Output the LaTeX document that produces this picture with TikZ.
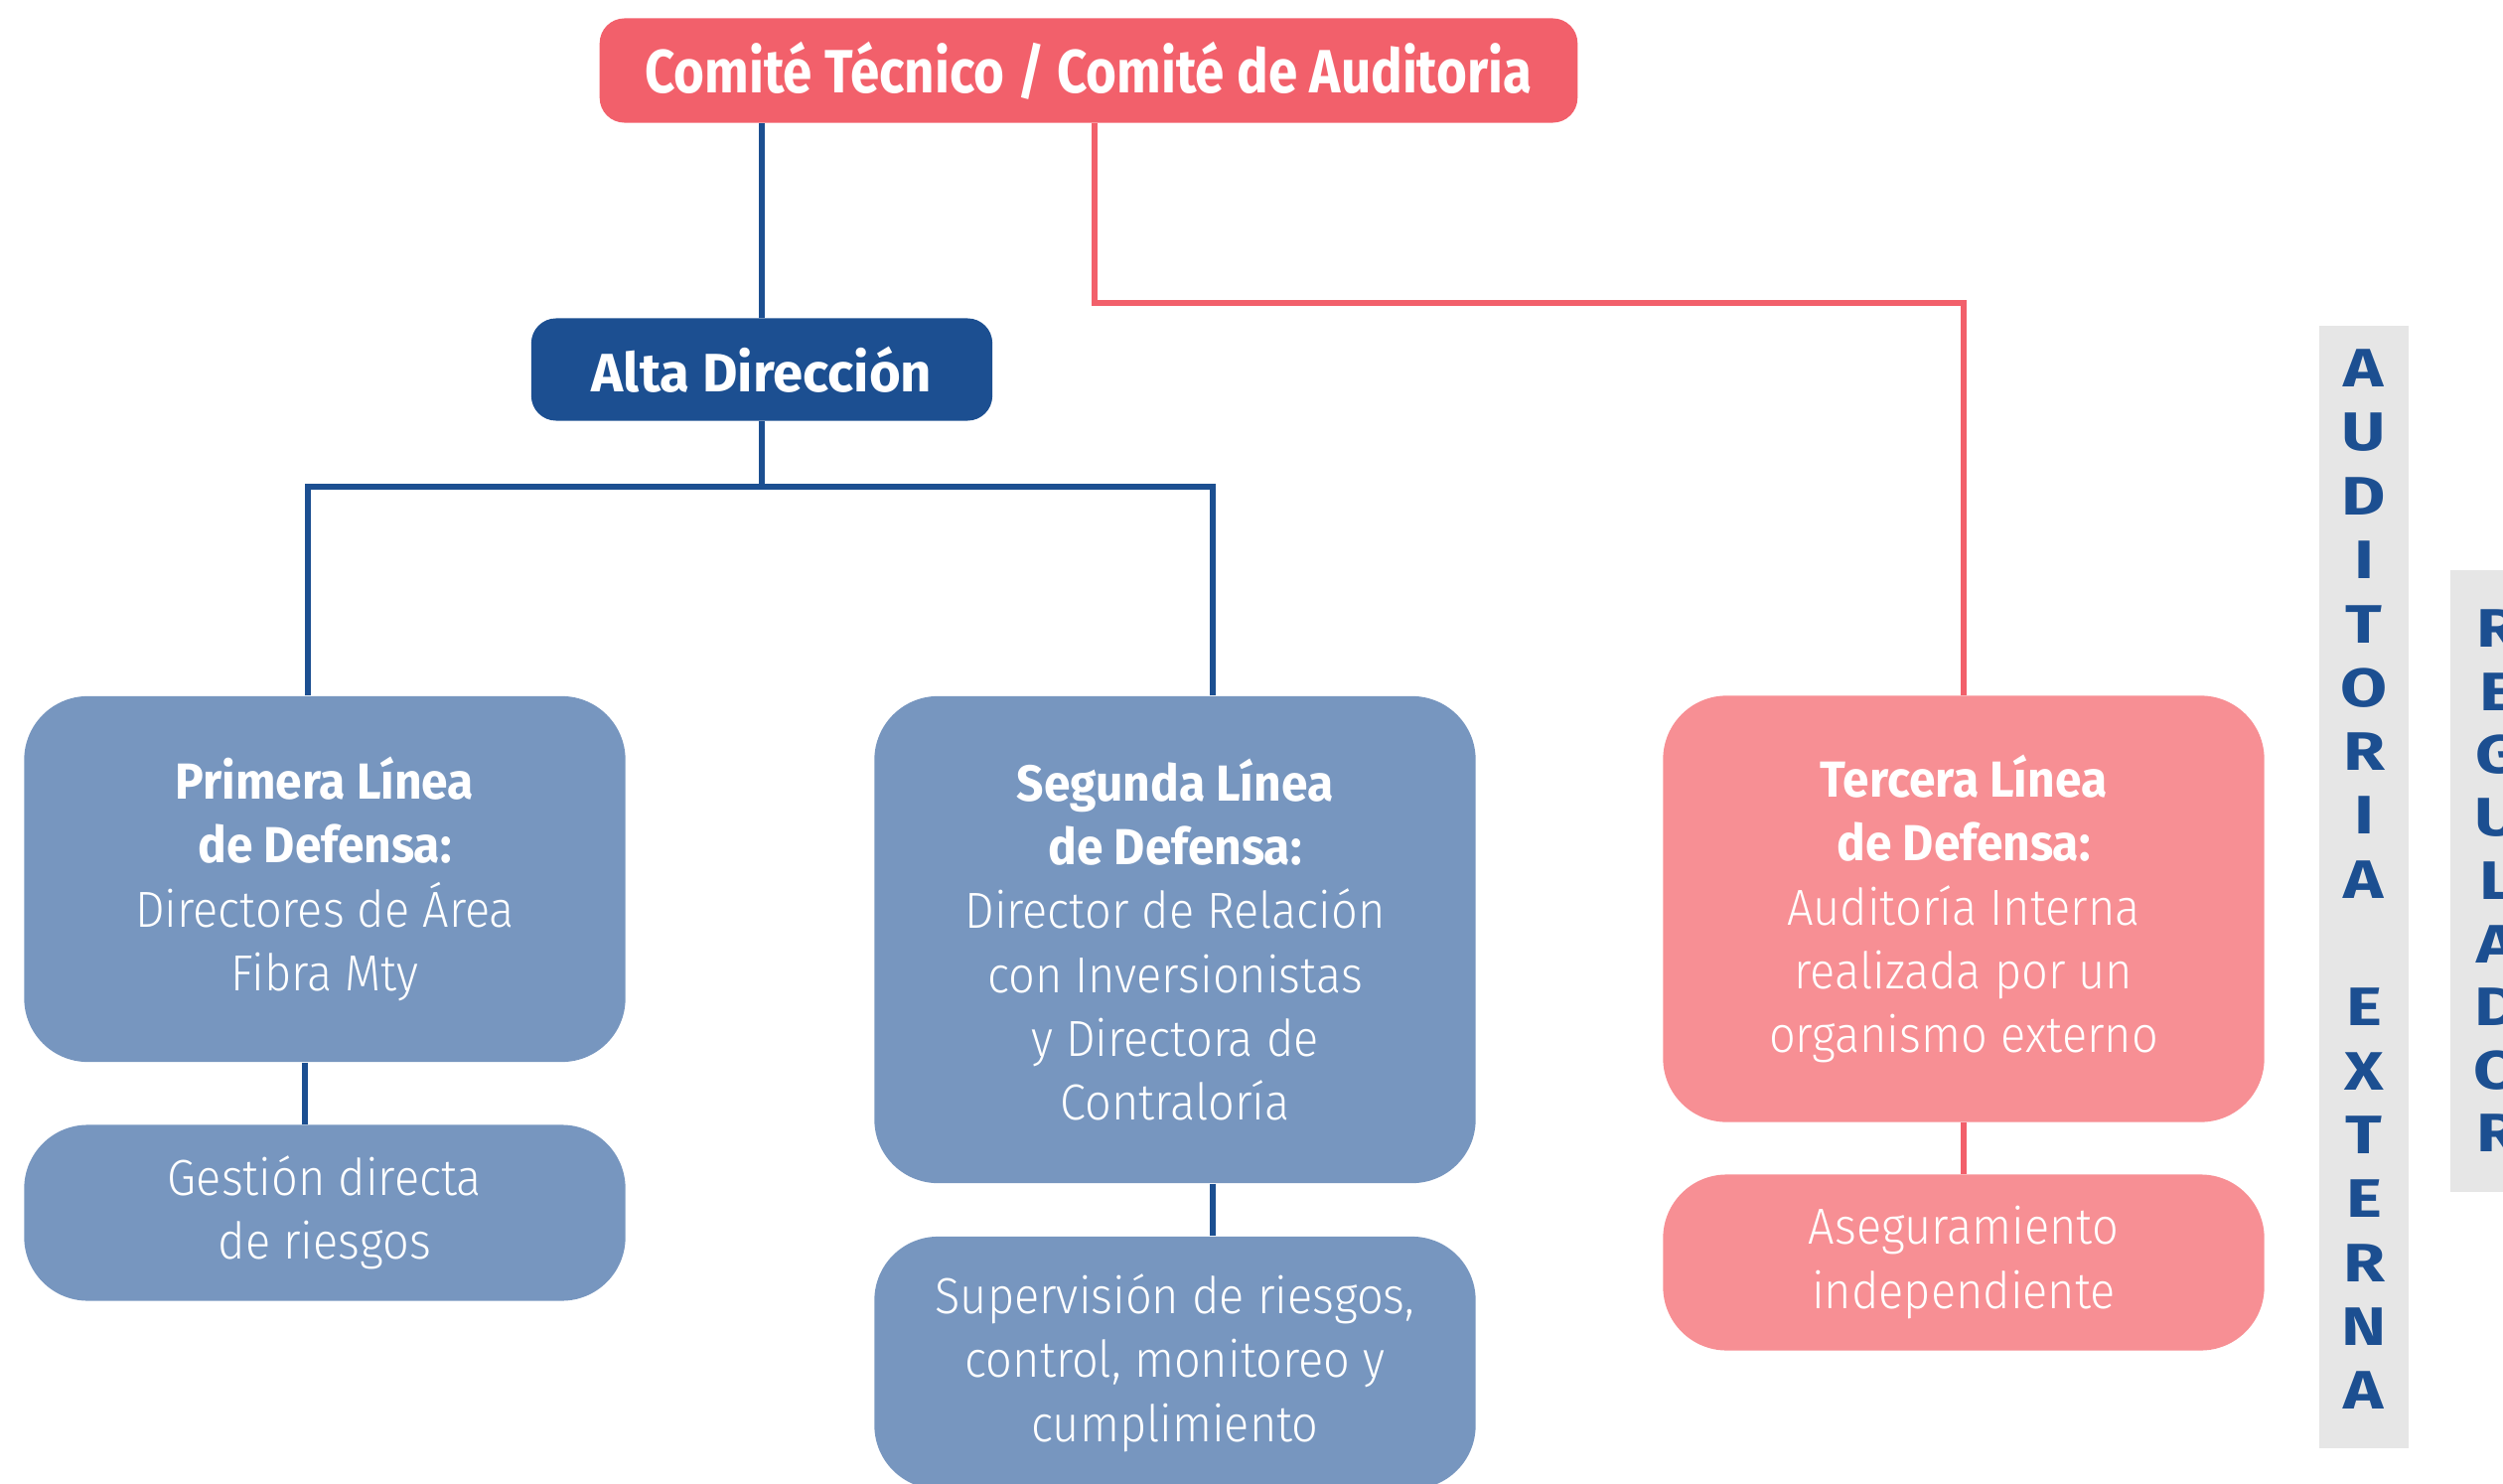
\documentclass[tikz,border=0pt]{standalone}
\usepackage{fontspec}
\setmainfont{Fira Sans}
\newfontfamily\lightfont{Fira Sans Light}[FakeStretch=0.92, BoldFont={Fira Sans Bold}, BoldFeatures={FakeStretch=0.94}]
\newfontfamily\condfont{Fira Sans}[FakeStretch=0.86]
\newfontfamily\widefont{Fira Sans}[FakeStretch=1.25]
\definecolor{comred}{HTML}{F2606B}
\definecolor{linepink}{HTML}{F78F94}
\definecolor{boxblue}{HTML}{7796BF}
\definecolor{darkblue}{HTML}{1C4F91}
\definecolor{stripgray}{HTML}{E6E6E6}
\begin{document}
\begin{tikzpicture}[x=0.01cm,y=-0.01cm,
  defbox/.style={text=white, align=center, inner sep=0pt, minimum width=6.05cm, rounded corners=0.64cm,
    font=\lightfont\fontsize{14.5}{18.3}\selectfont},
  bluebox/.style={defbox, fill=boxblue},
  pinkbox/.style={defbox, fill=linepink},
  blueline/.style={draw=darkblue, line width=1.8pt},
  redline/.style={draw=comred, line width=1.8pt},
  vletter/.style={text=darkblue, font=\widefont\bfseries\fontsize{15.5}{15.5}\selectfont}]
\useasboundingbox (0,0) rectangle (2520,1494);

\node[fill=comred, text=white, rounded corners=0.25cm, minimum width=9.84cm, minimum height=1.05cm,
  font=\condfont\bfseries\fontsize{17.5}{20}\selectfont] (comite) at (1096,71) {Comité Técnico / Comité de Auditoria};
\node[fill=darkblue, text=white, rounded corners=0.25cm, minimum width=4.64cm, minimum height=1.03cm,
  font=\bfseries\fontsize{15.5}{20}\selectfont] (alta) at (767,372) {Alta Dirección};

\node[bluebox, minimum height=3.68cm] (primera) at (327,885)
  {\textbf{Primera Línea}\\\textbf{de Defensa:}\\Directores de Área\\Fibra Mty};
\node[bluebox, minimum height=1.77cm] (gestion) at (327,1221)
  {Gestión directa\\de riesgos};
\node[bluebox, minimum height=4.9cm] (segunda) at (1183,946)
  {\textbf{Segunda Línea}\\\textbf{de Defensa:}\\Director de Relación\\con Inversionistas\\y Directora de\\Contraloría};
\node[bluebox, minimum height=2.54cm] (supervision) at (1183,1372)
  {Supervisión de riesgos,\\control, monitoreo y\\cumplimiento};
\node[pinkbox, minimum height=4.29cm] (tercera) at (1977,915)
  {\textbf{Tercera Línea}\\\textbf{de Defensa:}\\Auditoría Interna\\realizada por un\\organismo externo};
\node[pinkbox, minimum height=1.77cm] (asegur) at (1977,1271)
  {Aseguramiento\\independiente};

% connectors
\coordinate (split) at (767,490);
\coordinate (redbend) at (1102,305);
\draw[blueline] (comite.south -| alta.north) -- (alta.north);
\draw[blueline] (alta.south) -- (split);
\draw[blueline] ([xshift=-0.17cm]primera.north) |- (split) -| ([xshift=0.38cm]segunda.north);
\draw[redline] (comite.south -| redbend) -- (redbend) -| (tercera.north);
\draw[blueline] ([xshift=-0.2cm]primera.south) -- ([xshift=-0.2cm]gestion.north);
\draw[blueline] ([xshift=0.38cm]segunda.south) -- ([xshift=0.38cm]supervision.north);
\draw[redline] (tercera.south) -- (asegur.north);

% side strips
\fill[stripgray] (2335,328) rectangle (2425,1458);
\fill[stripgray] (2467,574) rectangle (2530,1200);
\foreach \l [count=\i from 0] in {A,U,D,I,T,O,R,I,A,,E,X,T,E,R,N,A}
  \node[vletter] (ext\i) at (2380,371+64.3*\i) {\l};
\foreach \l [count=\i from 0] in {R,E,G,U,L,A,D,O,R}
  \node[vletter] (reg\i) at (2514,633+63.5*\i) {\l};
\end{tikzpicture}
\end{document}
